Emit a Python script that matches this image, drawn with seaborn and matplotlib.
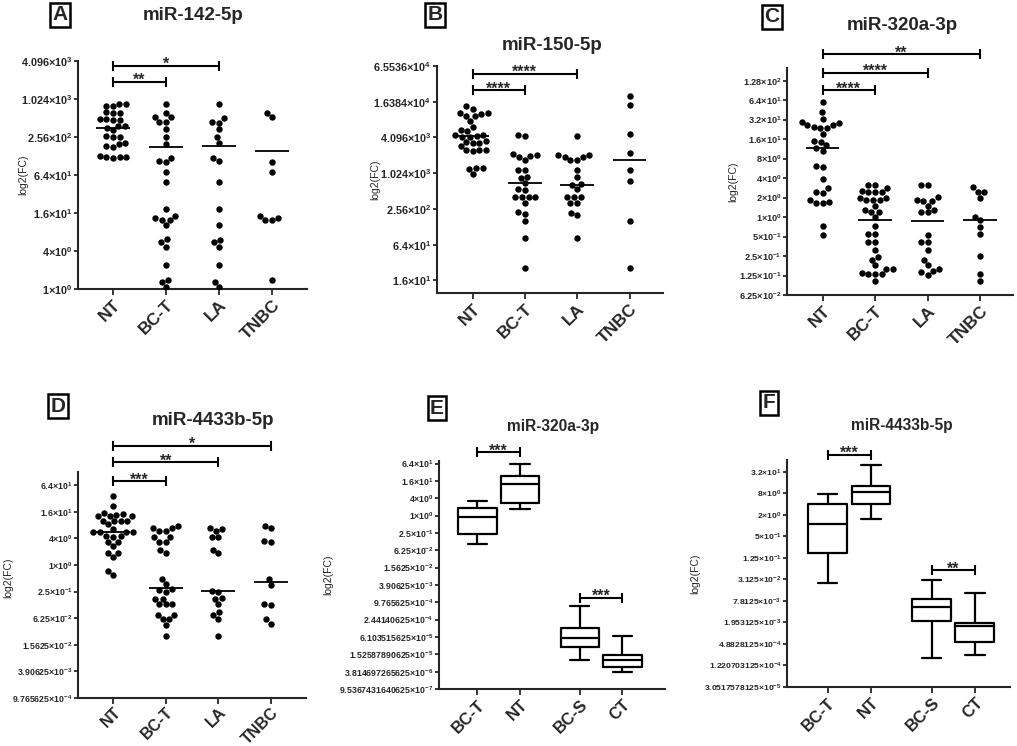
import numpy as np
import pandas as pd
import matplotlib
matplotlib.use("Agg")
import matplotlib.pyplot as plt
from matplotlib.ticker import FuncFormatter, NullLocator
import seaborn as sns

# ---------------- data (fold change) ----------------
scatter_groups = ["NT", "BC-T", "LA", "TNBC"]
box_groups = ["BC-T", "NT", "BC-S", "CT"]

# A  miR-142-5p
A_NT = [855, 850, 800, 790, 630, 620, 615, 495, 485, 480, 470, 385, 380, 360, 325,
        262, 258, 255, 205, 200, 183, 178, 127, 125, 124, 122, 121]
A_BCT = [855, 625, 540, 526, 449, 449, 340, 254, 200, 118, 105, 101, 71, 49, 18.4,
         14.4, 13.3, 12.5, 12.5, 10.4, 6.2, 5.5, 4.7, 2.37, 1.4, 1.29, 1.07]
A_LA = [855, 508, 449, 434, 340, 254, 204, 118, 105, 49, 18.4, 10.4, 6.0, 5.5, 4.7,
        2.37, 1.29, 1.07]
A_TNBC = [625, 540, 101, 71, 14.4, 13.3, 12.5, 12.2, 1.4]
A_MED = [362, 179, 187, 154]
A_SIG = [("NT", "BC-T", "**", 1924), ("NT", "LA", "*", 3470)]

# B  miR-150-5p
B_NT = [13680, 12500, 10580, 10500, 10010, 9410, 9350, 7750, 6130, 5400, 5190, 4450,
        4450, 4400, 4160, 4100, 3520, 3400, 3350, 3300, 2900, 2490, 2490, 2470, 2420,
        1250, 1220, 1240, 1000]
B_BCT = [4550, 4330, 2120, 2040, 1970, 1910, 1680, 1170, 1170, 880, 850, 700, 560, 540,
         405, 405, 405, 405, 325, 226, 212, 160, 84, 26]
B_LA = [4330, 2050, 2050, 1910, 1910, 1680, 1680, 1170, 880, 680, 650, 560, 405, 405,
        405, 325, 325, 221, 205, 84]
B_TNBC = [20400, 14200, 4740, 2240, 1170, 766, 160, 26]
B_MED = [4300, 708, 650, 1690]
B_SIG = [("NT", "BC-T", "****", 25350), ("NT", "LA", "****", 48600)]

# C  miR-320a-3p
C_NT = [59.6, 41.3, 33, 28.9, 28.5, 26.3, 26, 24.2, 24, 23.6, 19.1, 14.7, 14.5, 12.8,
        11.5, 10.6, 6.06, 6.0, 3.86, 2.77, 2.4, 2.38, 1.85, 1.68, 1.66, 1.64, 0.72, 0.52]
C_BCT = [3.16, 3.08, 2.8, 2.5, 2.43, 2.43, 2.43, 1.96, 1.96, 1.85, 1.81, 1.81, 1.46,
         1.3, 1.19, 1.19, 1.0, 0.74, 0.55, 0.55, 0.41, 0.41, 0.31, 0.24, 0.22, 0.18,
         0.157, 0.157, 0.137, 0.133, 0.133, 0.133, 0.102]
C_LA = [3.16, 3.16, 2.01, 1.85, 1.79, 1.79, 1.5, 1.3, 1.19, 1.19, 0.53, 0.41, 0.41,
        0.31, 0.22, 0.18, 0.157, 0.145, 0.14, 0.128]
C_TNBC = [2.87, 2.43, 2.43, 1.96, 1.02, 0.89, 0.7, 0.55, 0.25, 0.133, 0.102]
C_MED = [11.6, 0.89, 0.86, 0.89]
C_SIG = [("NT", "BC-T", "****", 92.4), ("NT", "LA", "****", 171), ("NT", "TNBC", "**", 328)]

# D  miR-4433b-5p
D_NT = [36.1, 21.5, 15.2, 14.4, 13.5, 12.8, 12.8, 12.6, 10.2, 10.2, 9.85, 9.85, 8.3,
        6.6, 5.6, 5.56, 5.5, 5.5, 4.5, 4.5, 4.29, 3.3, 3.3, 2.68, 1.9, 1.9, 1.52, 0.73,
        0.59]
D_BCT = [7.6, 6.96, 6.73, 6.06, 5.86, 4.29, 4.29, 3.36, 3.36, 2.18, 1.83, 0.49, 0.366,
         0.282, 0.268, 0.245, 0.173, 0.168, 0.129, 0.129, 0.129, 0.074, 0.074, 0.059,
         0.059, 0.044, 0.025]
D_LA = [6.96, 6.4, 5.86, 4.29, 4.29, 2.18, 1.83, 0.259, 0.25, 0.183, 0.173, 0.129,
        0.088, 0.073, 0.059, 0.025]
D_TNBC = [7.6, 6.73, 3.48, 3.36, 0.49, 0.354, 0.134, 0.123, 0.059, 0.046]
D_MED = [5.66, 0.308, 0.26, 0.42]
D_SIG = [("NT", "BC-T", "***", 78.8), ("NT", "LA", "**", 215), ("NT", "TNBC", "*", 504)]

# E / F five-number summaries: min, q1, median, q3, max
E_BCT = [0.102, 0.234, 0.89, 1.8, 3.1]
E_NT = [1.66, 2.83, 12.9, 23.9, 62]
E_BCS = [9.4e-6, 2.7e-5, 5.7e-5, 1.25e-4, 7.1e-4]
E_CT = [3.6e-6, 5.5e-6, 9.6e-6, 1.43e-5, 6.8e-5]
E_SIG = [("BC-T", "NT", "***", 163), ("BC-S", "CT", "***", 1.42e-3)]

F_BCT = [0.024, 0.171, 1.12, 4.1, 7.4]
F_NT = [1.48, 3.88, 8.4, 12.6, 50.6]
F_BCS = [2.02e-4, 0.0022, 0.0052, 0.0089, 0.029]
F_CT = [2.34e-4, 5.4e-4, 0.00158, 0.00188, 0.0129]
F_SIG = [("BC-T", "NT", "***", 96), ("BC-S", "CT", "**", 0.0575)]

# y tick values (powers of two as printed on the axes)
A_TICKS = [1, 4, 16, 64, 256, 1024, 4096]
B_TICKS = [16, 64, 256, 1024, 4096, 16384, 65536]
C_TICKS = [0.0625, 0.125, 0.25, 0.5, 1, 2, 4, 8, 16, 32, 64, 128]
D_TICKS = [9.765625e-4, 3.90625e-3, 1.5625e-2, 6.25e-2, 0.25, 1, 4, 16, 64]
E_TICKS = [9.5367431640625e-07, 3.814697265625e-06, 1.52587890625e-05, 6.103515625e-05,
           2.44140625e-04, 9.765625e-04, 3.90625e-03, 1.5625e-02, 6.25e-02, 0.25, 1, 4,
           16, 64]
F_TICKS = [3.0517578125e-05, 1.220703125e-04, 4.8828125e-04, 1.953125e-03, 7.8125e-03,
           3.125e-02, 0.125, 0.5, 2, 8, 32]

# ---------------- style ----------------
sns.set_style("ticks")
plt.rcParams["font.family"] = ["Liberation Sans", "DejaVu Sans"]
plt.rcParams["font.weight"] = "bold"
plt.rcParams["mathtext.fontset"] = "custom"
plt.rcParams["mathtext.rm"] = "Liberation Sans:bold"
plt.rcParams["mathtext.it"] = "Liberation Sans:bold"
plt.rcParams["mathtext.bf"] = "Liberation Sans:bold"
plt.rcParams["mathtext.default"] = "rm"

W, H = 1017, 746
fig = plt.figure(figsize=(W / 100, H / 100), dpi=100)


def add_ax(left, right, top, bottom):
    return fig.add_axes([left / W, 1 - bottom / H, (right - left) / W, (bottom - top) / H])


def pow_label(v, _pos=None):
    m, e = f"{v:.15e}".split("e")
    m = m.rstrip("0").rstrip(".")
    return f"{m}×10$^{{{int(e)}}}$"


def style_axes(ax, ticks, ylim, xlim, label_x, label_y=0.5, tick_fs=6.3, xpad=2):
    ax.set_ylim(*ylim)
    ax.set_xlim(*xlim)
    ax.set_yticks(ticks)
    ax.yaxis.set_major_formatter(FuncFormatter(pow_label))
    ax.yaxis.set_minor_locator(NullLocator())
    ax.tick_params(axis="y", labelsize=tick_fs, length=3, width=1.3, pad=1)
    ax.tick_params(axis="x", length=4, width=1.3, pad=xpad)
    for s in ["top", "right"]:
        ax.spines[s].set_visible(False)
    for s in ["left", "bottom"]:
        ax.spines[s].set_linewidth(1.5)
    ax.set_xlabel("")
    ax.set_ylabel("log2(FC)", fontsize=7.5, fontweight="normal")
    ax.yaxis.set_label_coords(label_x, label_y)


def bracket(ax, x0, x1, y, text):
    ax.plot([x0, x1], [y, y], color="black", lw=1.5, marker="|", markersize=7,
            mew=1.5, clip_on=False, zorder=5)
    ax.annotate(text, xy=((x0 + x1) / 2, y), xytext=(0, -2.5), textcoords="offset points",
                ha="center", va="baseline", fontsize=11.5, fontweight="bold",
                annotation_clip=False)


def scatter_panel(ax, groups, medians, sigs, xfs=12.5):
    df = pd.DataFrame({
        "group": np.repeat(scatter_groups, [len(g) for g in groups]),
        "fc": np.concatenate(groups),
    })
    ax.set_yscale("log", base=2)
    sns.swarmplot(data=df, x="group", y="fc", order=scatter_groups, color="black",
                  size=4.6, ax=ax, warn_thresh=1)
    pos = np.arange(len(scatter_groups))
    ax.hlines(medians, pos - 0.32, pos + 0.32, color="black", lw=1.3, zorder=4)
    for a, b, t, y in sigs:
        bracket(ax, scatter_groups.index(a), scatter_groups.index(b), y, t)
    ax.set_xticks(pos)
    ax.set_xticklabels(scatter_groups, rotation=45, ha="right", rotation_mode="anchor",
                       fontsize=xfs, fontweight="bold")


box_pos = {"BC-T": 0, "NT": 1, "BC-S": 2.4, "CT": 3.4}


def box_panel(ax, stats, sigs):
    df = pd.DataFrame({
        "pos": np.repeat([box_pos[g] for g in box_groups], [len(s) for s in stats]),
        "fc": np.concatenate(stats),
    })
    ax.set_yscale("log", base=2)
    sns.boxplot(data=df, x="pos", y="fc", native_scale=True, orient="x", whis=(0, 100),
                width=0.9, fill=False, color="black", linewidth=1.6, ax=ax)
    for a, b, t, y in sigs:
        bracket(ax, box_pos[a], box_pos[b], y, t)
    ax.set_xticks([box_pos[g] for g in box_groups])
    ax.set_xticklabels(box_groups, rotation=45, ha="right", rotation_mode="anchor",
                       fontsize=12, fontweight="bold")


axA = add_ax(78, 307, 61, 289)
scatter_panel(axA, [A_NT, A_BCT, A_LA, A_TNBC], A_MED, A_SIG)
style_axes(axA, A_TICKS, (1, 4096), (-0.66, 3.66), -0.218, tick_fs=7.8)

axB = add_ax(437, 663, 66, 293)
scatter_panel(axB, [B_NT, B_BCT, B_LA, B_TNBC], B_MED, B_SIG)
style_axes(axB, B_TICKS, (9.8, 65536), (-0.68, 3.64), -0.252, tick_fs=7.8)

axC = add_ax(787, 1013, 68, 295)
scatter_panel(axC, [C_NT, C_BCT, C_LA, C_TNBC], C_MED, C_SIG)
style_axes(axC, C_TICKS, (0.0625, 200.8), (-0.68, 3.63), -0.217, tick_fs=6.6)

axD = add_ax(78, 306, 472, 698)
scatter_panel(axD, [D_NT, D_BCT, D_LA, D_TNBC], D_MED, D_SIG, xfs=11.5)
style_axes(axD, D_TICKS, (9.765625e-4, 128), (-0.67, 3.67), -0.285, 0.53, xpad=1)

axE = add_ax(439, 665, 461, 689)
box_panel(axE, [E_BCT, E_NT, E_BCS, E_CT], E_SIG)
style_axes(axE, E_TICKS, (9.5367431640625e-07, 78.8), (-0.9, 4.4), -0.469)

axF = add_ax(787, 1010, 460, 687)
box_panel(axF, [F_BCT, F_NT, F_BCS, F_CT], F_SIG)
style_axes(axF, F_TICKS, (3.0517578125e-05, 67.6), (-0.94, 4.21), -0.39, tick_fs=6.1)

# titles and panel letters (pixel positions)
titles = [("miR-142-5p", 193, 16, 13.5), ("miR-150-5p", 552, 45, 13.5),
          ("miR-320a-3p", 902, 25, 13.5), ("miR-4433b-5p", 213, 420, 13.5),
          ("miR-320a-3p", 553, 426, 11.2), ("miR-4433b-5p", 902, 425, 11.2)]
for t, x, y, fs in titles:
    fig.text(x / W, 1 - y / H, t, ha="center", va="center", fontsize=fs, fontweight="bold")

letters = [("A", 60, 15), ("B", 435, 15), ("C", 772, 17), ("D", 58, 406),
           ("E", 437, 408), ("F", 769, 403)]
for t, x, y in letters:
    fig.text(x / W, 1 - y / H, t, ha="center", va="center", fontsize=15, fontweight="bold",
             bbox=dict(boxstyle="square,pad=0.12", fc="white", ec="black", lw=1.8))

fig.savefig("out.png", dpi=100)
